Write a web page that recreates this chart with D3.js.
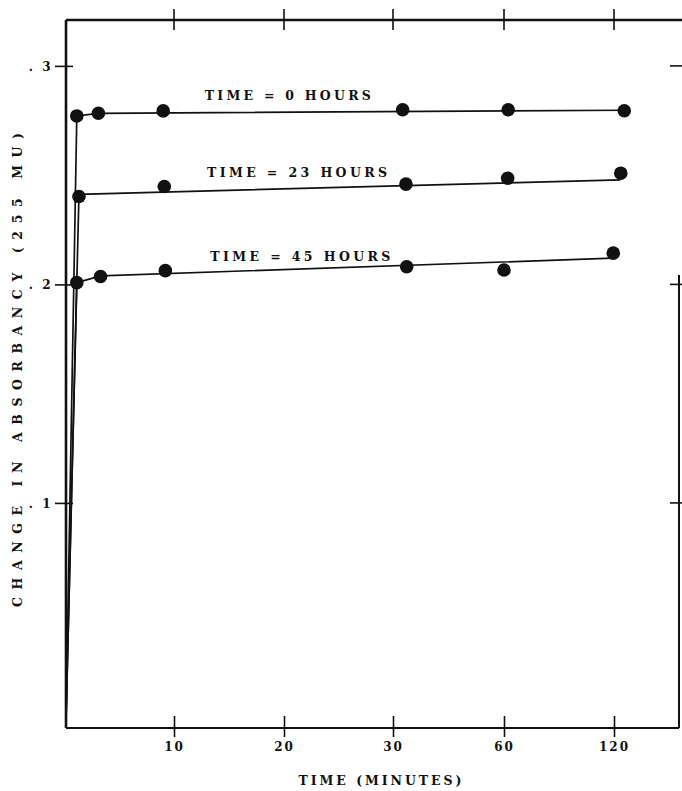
<!DOCTYPE html>
<html>
<head>
<meta charset="utf-8">
<script src="https://cdn.jsdelivr.net/npm/d3@7"></script>
<style>
  html, body { margin: 0; padding: 0; background: #fff; }
  svg { display: block; }
  .lbl { font-family: "DejaVu Serif", serif; font-weight: bold; fill: #111; }
</style>
</head>
<body>
<svg id="chart" width="682" height="791"></svg>
<script>
// Time axis: linear to 30 min, then 30 -> 60 -> 120 at equal steps
const timeBreaks = [0, 10, 20, 30, 60, 120];
const timeTicks = [10, 20, 30, 60, 120];
const absTicks = [0.1, 0.2, 0.3];
const absTickLabels = [".\u00a01", ".\u00a02", ".\u00a03"];

// Measured absorbancy change at 255 mu, by time after mixing (minutes)
const times0h = [1.0, 3.0, 9.0, 32.6, 62.3, 125.6];
const absorb0h = [0.2771, 0.2783, 0.2794, 0.2799, 0.2799, 0.2795];
const times23h = [1.2, 9.1, 33.5, 62.0, 123.7];
const absorb23h = [0.2402, 0.2448, 0.2459, 0.2486, 0.2509];
const times45h = [1.0, 3.2, 9.2, 33.7, 60.0, 119.6];
const absorb45h = [0.2008, 0.2036, 0.2063, 0.2081, 0.2066, 0.2143];

// Drawn curves: rise from the origin, then the fitted line
const curveTimes0h = [0, 1.0, 3.0, 125.6];
const curveAbs0h = [0, 0.2771, 0.2783, 0.2797];
const curveTimes23h = [0, 1.2, 123.5];
const curveAbs23h = [0, 0.2412, 0.2478];
const curveTimes45h = [0, 1.0, 3.2, 119.5];
const curveAbs45h = [0, 0.2008, 0.2039, 0.2120];

const seriesNames = ["TIME = 0 HOURS", "TIME = 23 HOURS", "TIME = 45 HOURS"];
const labelTimes = [12.8, 13.0, 13.3];
const labelAbs = [0.2844, 0.2492, 0.2108];

const svg = d3.select("#chart");

const x = d3.scaleLinear()
  .domain(timeBreaks)
  .range([66, 174, 284, 393, 504, 614]);
const y = d3.scaleLinear()
  .domain([-0.003, 0.321])
  .range([728, 20]);

const plotLeft = x(0), plotRight = 679, plotTop = y(0.321), plotBottom = y(-0.003);

// Frame lines
svg.append("line").attr("x1", plotLeft).attr("x2", 682).attr("y1", plotTop).attr("y2", plotTop)
  .attr("stroke", "#111").attr("stroke-width", 2.6);
svg.append("line").attr("x1", plotRight).attr("x2", plotRight).attr("y1", 275).attr("y2", plotBottom)
  .attr("stroke", "#111").attr("stroke-width", 2);

// Bottom axis
const xAxis = svg.append("g").attr("transform", `translate(0,${plotBottom})`)
  .call(d3.axisBottom(x).tickValues(timeTicks).tickSizeOuter(0).tickFormat(d3.format("d")));
xAxis.select(".domain").attr("d", `M${plotLeft},0H${plotRight}`).attr("stroke", "#111").attr("stroke-width", 2.2);
xAxis.selectAll(".tick line").attr("y1", -12).attr("y2", 9).attr("stroke", "#111").attr("stroke-width", 1.6);
xAxis.selectAll(".tick text").attr("class", "lbl").attr("y", 23).attr("dy", 0)
  .style("font-size", "12px").style("letter-spacing", "2px").attr("fill", "#111");

// Top tick marks
svg.append("g").selectAll("line").data(timeTicks).join("line")
  .attr("x1", d => x(d)).attr("x2", d => x(d))
  .attr("y1", plotTop - 11).attr("y2", plotTop + 10)
  .attr("stroke", "#111").attr("stroke-width", 1.6);

// Left axis
const yAxis = svg.append("g").attr("transform", `translate(${plotLeft},0)`)
  .call(d3.axisLeft(y).tickValues(absTicks).tickSizeOuter(0)
    .tickFormat((d, i) => absTickLabels[i]));
yAxis.select(".domain").attr("d", `M0,${plotTop}V${plotBottom}`).attr("stroke", "#111").attr("stroke-width", 2.6);
yAxis.selectAll(".tick line").attr("x1", -11).attr("x2", 7).attr("stroke", "#111").attr("stroke-width", 1.6);
yAxis.selectAll(".tick text").attr("class", "lbl").attr("x", -13).attr("dy", "0.35em")
  .style("font-size", "12px").style("letter-spacing", "2.5px").attr("fill", "#111");

// Right tick marks
svg.append("g").selectAll("line").data(absTicks).join("line")
  .attr("x1", 670).attr("x2", 682)
  .attr("y1", d => y(d)).attr("y2", d => y(d))
  .attr("stroke", "#111").attr("stroke-width", 1.6);

// Axis titles
svg.append("text").attr("class", "lbl")
  .attr("x", 380).attr("y", 785).attr("text-anchor", "middle")
  .attr("textLength", 163).attr("lengthAdjust", "spacing")
  .style("font-size", "12.5px").text("TIME (MINUTES)");
svg.append("text").attr("class", "lbl")
  .attr("transform", "translate(22,370) rotate(-90)")
  .attr("text-anchor", "middle")
  .attr("textLength", 474).attr("lengthAdjust", "spacing")
  .style("font-size", "12.5px").text("CHANGE IN ABSORBANCY (255 MU)");

// Series
const series = [
  { t: times0h, v: absorb0h, ct: curveTimes0h, cv: curveAbs0h },
  { t: times23h, v: absorb23h, ct: curveTimes23h, cv: curveAbs23h },
  { t: times45h, v: absorb45h, ct: curveTimes45h, cv: curveAbs45h }
];
const line = d3.line().x(d => x(d[0])).y(d => y(d[1]));

series.forEach((s, i) => {
  const pts = s.ct.map((t, j) => [t, s.cv[j]]);
  svg.append("path").attr("d", line(pts))
    .attr("fill", "none").attr("stroke", "#111").attr("stroke-width", 1.7);
  svg.append("g").selectAll("circle").data(s.t.map((t, j) => [t, s.v[j]])).join("circle")
    .attr("cx", d => x(d[0])).attr("cy", d => y(d[1])).attr("r", 6.8)
    .attr("fill", "#111");
  svg.append("text").attr("class", "lbl")
    .attr("x", x(labelTimes[i])).attr("y", y(labelAbs[i]))
    .attr("textLength", i === 0 ? 166 : 180).attr("lengthAdjust", "spacing")
    .style("font-size", "12.5px").text(seriesNames[i]);
});
</script>
</body>
</html>
